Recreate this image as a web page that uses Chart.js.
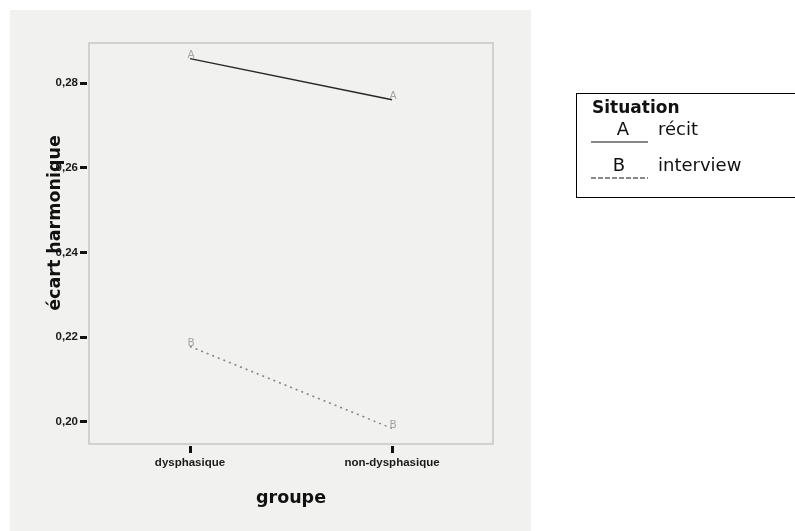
<!DOCTYPE html>
<html>
<head>
<meta charset="utf-8">
<script src="https://cdn.jsdelivr.net/npm/chart.js@4"></script>
<style>
  html, body { margin: 0; padding: 0; background: #fff; }
  #wrap { width: 795px; height: 531px; position: relative; }
</style>
</head>
<body>
<div id="wrap"><canvas id="ecart_harmonique"></canvas></div>
<script>
// valeurs
const groupes = ['dysphasique', 'non-dysphasique'];
const recit = [0.2858, 0.2761];
const interview = [0.2178, 0.1985];
const situations = ['récit', 'interview'];
const lettres = ['A', 'B'];
const yTicks = [0.20, 0.22, 0.24, 0.26, 0.28];

const titreY = 'écart harmonique';
const titreX = 'groupe';
const titreLegende = 'Situation';

// fond gris du scan, cadre, lettres, titres et légende
const decor = {
  id: 'decor',
  beforeDraw(chart) {
    const c = chart.ctx;
    c.save();
    c.fillStyle = '#ffffff';
    c.fillRect(0, 0, chart.width, chart.height);
    c.fillStyle = '#f1f1f0';
    c.fillRect(10, 10, 521, 521);
    c.restore();
  },
  beforeDatasetsDraw(chart) {
    const a = chart.chartArea, c = chart.ctx;
    c.save();
    c.strokeStyle = '#c6c6c6';
    c.lineWidth = 1.5;
    c.strokeRect(a.left, a.top, a.right - a.left, a.bottom - a.top);
    c.restore();
  },
  afterDatasetsDraw(chart) {
    const c = chart.ctx;
    c.save();
    c.font = '10.5px "DejaVu Sans"';
    c.fillStyle = '#a4a4a4';
    c.textAlign = 'center';
    c.textBaseline = 'middle';
    chart.data.datasets.forEach((ds, i) => {
      chart.getDatasetMeta(i).data.forEach(pt => {
        c.fillText(lettres[i], pt.x + 1, pt.y - 3.5);
      });
    });
    c.restore();
  },
  afterDraw(chart) {
    const c = chart.ctx;
    const a = chart.chartArea;
    c.save();
    // titres des axes
    c.fillStyle = '#111';
    c.font = 'bold 17.5px "DejaVu Sans"';
    c.textAlign = 'center';
    c.textBaseline = 'middle';
    c.fillText(titreX, (a.left + a.right) / 2, 498);
    c.save();
    c.translate(55, 223);
    c.rotate(-Math.PI / 2);
    c.fillText(titreY, 0, 0);
    c.restore();

    // légende
    c.strokeStyle = '#000';
    c.lineWidth = 1;
    c.strokeRect(576.5, 93.5, 240, 104);
    c.textAlign = 'left';
    c.textBaseline = 'alphabetic';
    c.font = 'bold 17px "DejaVu Sans"';
    c.fillText(titreLegende, 592, 112.5);
    const lignes = [142, 178];
    chart.data.datasets.forEach((ds, i) => {
      const y = lignes[i];
      c.strokeStyle = '#111';
      c.lineWidth = 1.2;
      c.setLineDash(i === 0 ? [] : [5, 2]);
      c.beginPath();
      c.moveTo(591, y);
      c.lineTo(648, y);
      c.stroke();
      c.setLineDash([]);
      c.font = '18px "DejaVu Sans"';
      c.textAlign = 'center';
      c.fillText(lettres[i], i === 0 ? 623 : 619, y - 7);
      c.textAlign = 'left';
      c.fillText(ds.label, 658, y - 7);
    });
    c.restore();
  }
};

const ctx = document.getElementById('ecart_harmonique').getContext('2d');
const myChart = new Chart(ctx, {
  type: 'line',
  data: {
    labels: groupes,
    datasets: [{
      label: situations[0],
      data: recit,
      borderColor: '#262626',
      borderWidth: 1.4,
      pointRadius: 0,
      tension: 0
    }, {
      label: situations[1],
      data: interview,
      borderColor: '#858585',
      borderWidth: 1.6,
      borderDash: [2, 4],
      pointRadius: 0,
      tension: 0
    }]
  },
  options: {
    responsive: true,
    maintainAspectRatio: false,
    animation: false,
    layout: { padding: { left: 0, top: 43, right: 302, bottom: 0 } },
    plugins: {
      legend: { display: false },
      tooltip: { enabled: false }
    },
    scales: {
      x: {
        offset: true,
        border: { display: false },
        grid: {
          drawOnChartArea: false,
          tickLength: 9,
          tickWidth: 3,
          tickColor: '#111',
          tickBorderDash: [7, 2],
          tickBorderDashOffset: 7
        },
        ticks: {
          color: '#1a1a1a',
          padding: 3,
          maxRotation: 0,
          font: { family: 'Liberation Sans', weight: 'bold', size: 11.5 }
        },
        afterFit(scale) { scale.height = 87; }
      },
      y: {
        min: 0.1948,
        max: 0.2895,
        border: { display: false },
        grid: {
          drawOnChartArea: false,
          tickLength: 9,
          tickWidth: 3,
          tickColor: '#111',
          tickBorderDash: [7, 2]
        },
        ticks: {
          color: '#1a1a1a',
          padding: 2,
          font: { family: 'Liberation Sans', weight: 'bold', size: 11.5 },
          callback: v => v.toFixed(2).replace('.', ',')
        },
        afterBuildTicks(scale) { scale.ticks = yTicks.map(v => ({ value: v })); },
        afterFit(scale) { scale.width = 89; }
      }
    }
  },
  plugins: [decor]
});
</script>
</body>
</html>
